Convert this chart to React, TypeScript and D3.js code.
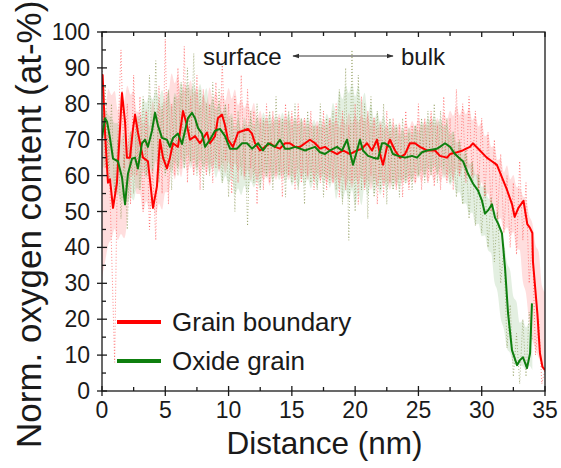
import React from 'react';
import * as d3 from 'd3';

// ---------- data ----------
const RAW_STEP = 0.25; // nm between raw profile samples

// Grain boundary raw profile (d = 0 .. 35 nm)
const gbRaw = [
  90, 62, 72, 40, 8, 70, 95, 62, 80, 52,
  88, 60, 82, 50, 78, 45, 62, 42, 85, 55,
  98, 52, 80, 60, 90, 62, 96, 58, 82, 60,
  88, 56, 84, 60, 80, 58, 86, 62, 92, 64,
  80, 55, 82, 58, 88, 60, 84, 62, 78, 52,
  76, 56, 80, 58, 78, 60, 76, 54, 80, 60,
  78, 56, 80, 58, 76, 60, 78, 56, 74, 58,
  78, 56, 76, 58, 80, 54, 78, 56, 74, 58,
  80, 52, 82, 56, 78, 60, 76, 52, 74, 54,
  78, 58, 76, 56, 74, 54, 78, 56, 74, 58,
  80, 56, 76, 58, 78, 57, 74, 56, 82, 58,
  76, 56, 84, 60, 80, 58, 82, 60, 78, 56,
  76, 54, 72, 50, 70, 48, 66, 44, 60, 40,
  58, 38, 64, 42, 58, 30, 42, 10, 20, 2,
  6,
];

// Oxide grain raw profile (d = 0 .. 34 nm)
const ogRaw = [
  72, 85, 62, 80, 55, 70, 48, 66, 45, 72,
  55, 75, 56, 82, 60, 88, 62, 92, 58, 80,
  60, 84, 56, 82, 60, 86, 62, 90, 64, 94,
  60, 84, 56, 80, 60, 86, 62, 84, 58, 80,
  54, 76, 50, 78, 60, 74, 46, 78, 58, 80,
  56, 76, 60, 78, 56, 82, 60, 76, 54, 78,
  58, 80, 56, 76, 52, 78, 58, 74, 56, 80,
  54, 76, 58, 78, 56, 84, 52, 90, 42, 95,
  50, 88, 56, 80, 48, 82, 54, 78, 56, 80,
  52, 76, 56, 74, 54, 76, 58, 72, 56, 74,
  60, 76, 58, 78, 60, 80, 58, 78, 62, 76,
  58, 72, 54, 70, 52, 68, 48, 64, 46, 60,
  44, 58, 40, 54, 36, 50, 30, 40, 12, 24,
  4, 16, 2, 20, 4, 22, 14,
];

// Smoothed profiles
const gbDist = [0, 0.05, 0.24, 0.37, 0.47, 0.63, 0.87, 1.18, 1.42, 1.58, 1.82, 1.97, 2.21, 2.45, 2.61, 2.84, 3.24, 3.63, 4.03, 4.34, 4.58, 4.82, 5.13, 5.37, 5.61, 6.0, 6.4, 6.71, 6.95, 7.35, 7.74, 8.29, 8.53, 8.93, 9.16, 9.48, 9.72, 9.95, 10.35, 10.75, 11.14, 11.53, 11.85, 12.09, 12.48, 12.88, 13.27, 13.67, 14.06, 14.46, 14.85, 15.25, 15.64, 16.04, 16.43, 16.83, 17.22, 17.62, 18.01, 18.57, 19.04, 19.59, 20.15, 20.54, 20.94, 21.33, 21.73, 21.96, 22.2, 22.52, 22.75, 23.15, 23.54, 23.94, 24.33, 24.73, 25.12, 25.68, 26.31, 26.7, 27.26, 27.5, 28.05, 28.5, 29.07, 29.3, 29.86, 30.4, 30.8, 31.2, 31.6, 32.0, 32.4, 32.6, 32.9, 33.3, 33.6, 33.8, 34.0, 34.05, 34.4, 34.6, 34.8, 35];
const gbVal = [88, 88, 72, 64, 58, 59, 51, 58, 73, 83, 75, 65, 65, 73, 77, 72, 65, 64, 51, 57, 70, 65, 62, 65, 69, 68, 78, 74, 70, 71, 69, 72, 69, 71, 76, 77, 74, 70, 68, 72, 72.5, 73, 71.7, 69, 67, 68, 69, 68, 67.5, 69, 69, 68, 68, 69, 70, 69, 67.5, 68, 67, 66, 67, 66, 67, 67.5, 69, 67, 70, 66, 63, 68, 70, 67, 65, 66, 69, 69, 68, 67, 67, 65.5, 65, 66, 66.5, 67, 68, 69, 67, 65, 64, 63, 59.5, 56, 52, 48.5, 51, 53, 46.5, 45.5, 44, 36, 21.5, 10.5, 6.7, 5.8];

const ogDist = [0, 0.24, 0.4, 0.63, 0.87, 1.26, 1.58, 1.82, 2.05, 2.37, 2.61, 2.84, 3.16, 3.4, 3.63, 3.95, 4.19, 4.42, 4.74, 5.13, 5.37, 5.61, 6.0, 6.32, 6.56, 6.79, 7.11, 7.35, 7.58, 7.9, 8.14, 8.53, 8.93, 9.32, 9.72, 10.11, 10.67, 11.06, 11.46, 11.85, 12.33, 12.72, 13.12, 13.67, 14.06, 14.46, 14.85, 15.25, 15.64, 16.04, 16.43, 16.83, 17.22, 17.62, 18.01, 18.57, 18.96, 19.36, 19.59, 19.83, 20.15, 20.38, 20.62, 21.02, 21.41, 21.81, 22.12, 22.36, 22.75, 22.99, 23.39, 23.94, 24.49, 24.89, 25.28, 25.68, 26.47, 26.7, 27.1, 27.5, 27.89, 28.28, 28.52, 28.92, 29.31, 29.71, 30.02, 30.26, 30.5, 30.81, 31.05, 31.29, 31.6, 31.84, 32.08, 32.39, 32.79, 33.02, 33.26, 33.58, 33.82, 33.97];
const ogVal = [70.5, 76, 75, 70.5, 64.7, 64, 59.5, 52, 60.5, 64.7, 65, 62, 69, 70, 68, 72.5, 77.5, 74, 70.5, 70, 68, 70.5, 71.7, 68.8, 72.5, 76, 77.5, 76, 73.3, 71.7, 68, 70, 72.5, 73, 71, 67.5, 67.5, 69, 69, 67.5, 69, 67, 69, 68, 70, 67.5, 67.5, 68, 67.5, 67, 67.5, 68, 66.5, 66, 67, 68, 67, 70, 66.5, 63, 67, 70, 67, 65.5, 65, 64.7, 69, 69, 68, 66, 65.5, 65, 65.5, 65, 66.5, 67, 67.5, 68, 69, 68, 66, 64.7, 64, 60.5, 57.8, 55.8, 53, 49.4, 50.3, 52, 48.3, 46.7, 43.9, 34.4, 21.7, 11.4, 7.2, 8.6, 9.4, 6.4, 10.5, 24.4];

const xTicks = [0, 5, 10, 15, 20, 25, 30, 35];
const xMinor = [2.5, 7.5, 12.5, 17.5, 22.5, 27.5, 32.5];
const yTicks = [0, 10, 20, 30, 40, 50, 60, 70, 80, 90, 100];
const yMinor = [5, 15, 25, 35, 45, 55, 65, 75, 85, 95];

const seriesNames = ['Grain boundary', 'Oxide grain'];

// ---------- layout ----------
const W = 561;
const H = 468;
const L = 102, R = 545, T = 32, B = 391;
const FONT = "'Liberation Sans', Arial, sans-serif";

const x = d3.scaleLinear().domain([0, 35]).range([L, R]);
const y = d3.scaleLinear().domain([0, 100]).range([B, T]);

type P = { d: number; v: number };
type BandP = { d: number; lo: number; hi: number };

function rawPoints(raw: number[]): P[] {
  return raw.map((v, i) => ({ d: i * RAW_STEP, v }));
}
function smoothPoints(ds: number[], vs: number[]): P[] {
  return ds.map((d, i) => ({ d, v: vs[i] }));
}
function bandPoints(raw: number[], win = 4, k = 0.72): BandP[] {
  return raw.map((_, i) => {
    const s = raw.slice(Math.max(0, i - win), Math.min(raw.length, i + win + 1));
    const m = d3.mean(s) as number;
    const sd = (d3.deviation(s) as number) || 0;
    return { d: i * RAW_STEP, lo: m - k * sd, hi: m + k * sd };
  });
}

const line = d3.line<P>().x((p) => x(p.d)).y((p) => y(p.v));
const area = d3.area<BandP>().x((p) => x(p.d)).y0((p) => y(p.lo)).y1((p) => y(p.hi)).curve(d3.curveMonotoneX);

export default function App() {
  const gbR = rawPoints(gbRaw);
  const ogR = rawPoints(ogRaw);
  const gbB = bandPoints(gbRaw);
  const ogB = bandPoints(ogRaw);
  const gbS = smoothPoints(gbDist, gbVal);
  const ogS = smoothPoints(ogDist, ogVal);
  const axisColor = '#1a1a1a';
  const textColor = '#1a1a1a';

  return (
    <svg width={W} height={H} style={{ position: 'fixed', left: 0, top: 0, background: '#fff' }} fontFamily={FONT}>
      <defs>
        <clipPath id="plot">
          <rect x={L} y={T} width={R - L} height={B - T} />
        </clipPath>
        <marker id="ah" viewBox="0 0 10 10" refX="9" refY="5" markerWidth="7" markerHeight="7" orient="auto-start-reverse">
          <path d="M0,1.5 L10,5 L0,8.5 z" fill="#333" />
        </marker>
      </defs>

      <g clipPath="url(#plot)">
        <path d={area(gbB) || ''} fill="rgba(255,90,90,0.2)" />
        <path d={area(ogB) || ''} fill="rgba(90,160,80,0.17)" />
        <path d={line(gbR) || ''} fill="none" stroke="#ff2a2a" strokeOpacity={0.55} strokeWidth={1} strokeDasharray="1 2" />
        <path d={line(ogR) || ''} fill="none" stroke="#6f7d2c" strokeOpacity={0.55} strokeWidth={1} strokeDasharray="1 2" />
        <path d={line(gbS) || ''} fill="none" stroke="#ff0000" strokeWidth={2} strokeLinejoin="round" />
        <path d={line(ogS) || ''} fill="none" stroke="#0e7f0e" strokeWidth={2} strokeLinejoin="round" />
      </g>

      {/* frame */}
      <rect x={L} y={T} width={R - L} height={B - T} fill="none" stroke={axisColor} strokeWidth={1.3} />

      {/* x axis ticks */}
      {xTicks.map((t) => (
        <g key={'xt' + t}>
          <line x1={x(t)} x2={x(t)} y1={B - 5} y2={B + 5} stroke={axisColor} strokeWidth={1.3} />
          <line x1={x(t)} x2={x(t)} y1={T} y2={T + 5} stroke={axisColor} strokeWidth={1.3} />
          <text x={x(t)} y={B + 27} textAnchor="middle" fontSize={23} fill={textColor}>{t}</text>
        </g>
      ))}
      {xMinor.map((t) => (
        <g key={'xm' + t}>
          <line x1={x(t)} x2={x(t)} y1={B - 4} y2={B} stroke={axisColor} strokeWidth={1.3} />
          <line x1={x(t)} x2={x(t)} y1={T} y2={T + 4} stroke={axisColor} strokeWidth={1.3} />
        </g>
      ))}

      {/* y axis ticks */}
      {yTicks.map((t) => (
        <g key={'yt' + t}>
          <line x1={L - 5} x2={L + 5} y1={y(t)} y2={y(t)} stroke={axisColor} strokeWidth={1.3} />
          <text x={L - 12} y={y(t) + 8} textAnchor="end" fontSize={23} fill={textColor}>{t}</text>
        </g>
      ))}
      {yMinor.map((t) => (
        <line key={'ym' + t} x1={L} x2={L + 4} y1={y(t)} y2={y(t)} stroke={axisColor} strokeWidth={1.3} />
      ))}

      {/* axis titles */}
      <text x={(L + R) / 2 + 1} y={454} textAnchor="middle" fontSize={31.5} fill={textColor}>Distance (nm)</text>
      <text transform={`translate(41,448) rotate(-90)`} textAnchor="start" fontSize={35} fill={textColor}>Norm. oxygen content (at-%)</text>

      {/* annotation */}
      <text x={203} y={65} fontSize={24} fill={textColor}>surface</text>
      <line x1={293} x2={393} y1={56} y2={56} stroke="#333" strokeWidth={1} markerStart="url(#ah)" markerEnd="url(#ah)" />
      <text x={401} y={65} fontSize={24} fill={textColor}>bulk</text>

      {/* legend */}
      <line x1={117} x2={161} y1={322} y2={322} stroke="#ff0000" strokeWidth={4} />
      <text x={172} y={331} fontSize={26} fill={textColor}>{seriesNames[0]}</text>
      <line x1={117} x2={161} y1={361} y2={361} stroke="#0e7f0e" strokeWidth={4} />
      <text x={172} y={370} fontSize={26} fill={textColor}>{seriesNames[1]}</text>
    </svg>
  );
}
